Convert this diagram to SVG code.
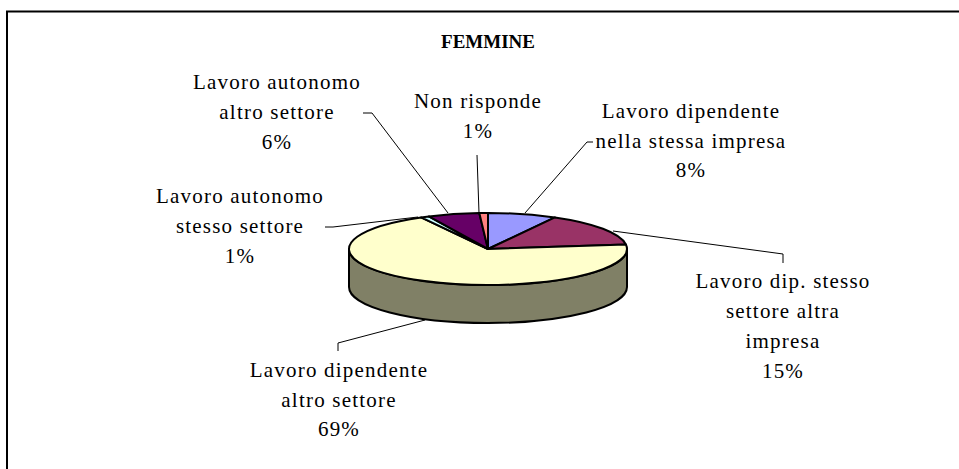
<svg xmlns="http://www.w3.org/2000/svg" width="959" height="469" viewBox="0 0 959 469">
<style>
text{font-family:'Times New Roman','Liberation Serif',serif}
.lbl{font-size:21px;letter-spacing:1.2px;fill:#000;text-anchor:middle}
.ttl{font-size:19px;font-weight:bold;fill:#000;text-anchor:middle}
.ld{fill:none;stroke:#000;stroke-width:1}
.sl{stroke:#000;stroke-width:2;stroke-linejoin:round}
</style>
<rect x="0" y="0" width="959" height="469" fill="#fff"/>
<rect x="7" y="11.5" width="1000" height="500" fill="none" stroke="#000" stroke-width="2"/>
<text class="ttl" x="488" y="48">FEMMINE</text>
<g id="pie">
<path id="side" class="sl" fill="#808066" d="M627,249 A139,36 0 0 1 349,249 L349,287 A139,36 0 0 0 627,287 Z"/>
<path id="s-dip-stessa" class="sl" fill="#9999FF" d="M488,249 L488,213 A139,36 0 0 1 554.97,217.45 Z"/>
<path id="s-dip-settore" class="sl" fill="#993366" d="M488,249 L554.97,217.45 A139,36 0 0 1 625.9,244.49 Z"/>
<path id="s-dip-altro" class="sl" fill="#FFFFCC" d="M488,249 L625.9,244.49 A139,36 0 1 1 421.04,217.45 Z"/>
<path id="s-aut-stesso" class="sl" fill="#CCFFFF" d="M488,249 L421.04,217.45 A139,36 0 0 1 428.82,216.43 Z"/>
<path id="s-aut-altro" class="sl" fill="#660066" d="M488,249 L428.82,216.43 A139,36 0 0 1 479.27,213.07 Z"/>
<path id="s-nonrisp" class="sl" fill="#FF8080" d="M488,249 L479.27,213.07 A139,36 0 0 1 488,213 Z"/>
</g>
<g id="connectors">
<polyline class="ld" points="363,113 372,113 448,213"/>
<polyline class="ld" points="477,155 479,213"/>
<polyline class="ld" points="593,142 587,142 525,213"/>
<polyline class="ld" points="613,231 783,254 783,263"/>
<polyline class="ld" points="325,227 333,227 418,217"/>
<polyline class="ld" points="338,351 338,343 425,320"/>
</g>
<g id="label-aut-altro">
<text class="lbl" x="277" y="89">Lavoro autonomo</text>
<text class="lbl" x="277" y="119">altro settore</text>
<text class="lbl" x="277" y="149">6%</text>
</g>
<g id="label-nonrisp">
<text class="lbl" x="478" y="108">Non risponde</text>
<text class="lbl" x="478" y="138">1%</text>
</g>
<g id="label-dip-stessa">
<text class="lbl" x="691" y="118">Lavoro dipendente</text>
<text class="lbl" x="691" y="148">nella stessa impresa</text>
<text class="lbl" x="691" y="177">8%</text>
</g>
<g id="label-dip-settore">
<text class="lbl" x="783" y="288">Lavoro dip. stesso</text>
<text class="lbl" x="783" y="318">settore altra</text>
<text class="lbl" x="783" y="348">impresa</text>
<text class="lbl" x="783" y="378">15%</text>
</g>
<g id="label-aut-stesso">
<text class="lbl" x="240" y="203">Lavoro autonomo</text>
<text class="lbl" x="240" y="233">stesso settore</text>
<text class="lbl" x="240" y="263">1%</text>
</g>
<g id="label-dip-altro">
<text class="lbl" x="339" y="377">Lavoro dipendente</text>
<text class="lbl" x="339" y="407">altro settore</text>
<text class="lbl" x="339" y="436">69%</text>
</g>
</svg>
